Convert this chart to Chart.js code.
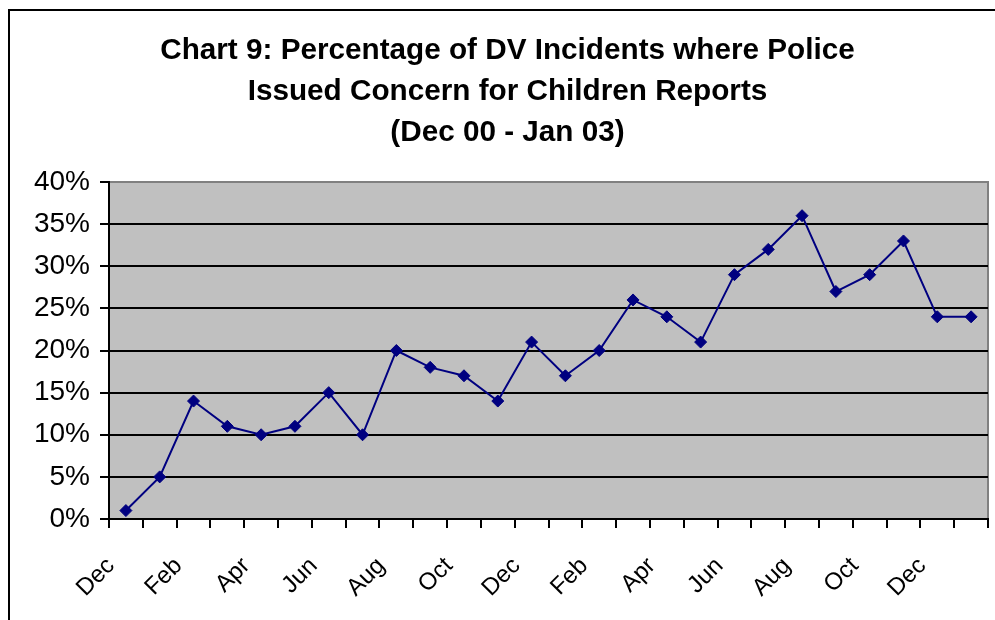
<!DOCTYPE html>
<html>
<head>
<meta charset="utf-8">
<script src="https://cdn.jsdelivr.net/npm/chart.js@4.4.0/dist/chart.umd.min.js"></script>
<style>
  body { margin: 0; background: #fff; overflow: hidden; }
  #frame { position: absolute; left: 8px; top: 9px; width: 1100px; height: 800px; border: 2px solid #000; }
  #wrap { position: absolute; left: 0; top: 0; width: 995px; height: 620px; }
</style>
</head>
<body>
<div id="frame"></div>
<div id="wrap"><canvas id="mycanvas" width="995" height="620"></canvas></div>
<script>
// Dec 00 - Jan 03, monthly
var months = ["Dec", "Jan", "Feb", "Mar", "Apr", "May", "Jun", "Jul", "Aug", "Sep", "Oct", "Nov",
              "Dec", "Jan", "Feb", "Mar", "Apr", "May", "Jun", "Jul", "Aug", "Sep", "Oct", "Nov",
              "Dec", "Jan"];
var percentCfc = [1, 5, 14, 11, 10, 11, 15, 10, 20, 18, 17, 14,
                  21, 17, 20, 26, 24, 21, 29, 32, 36, 27, 29, 33,
                  24, 24];
var yTicks = [0, 5, 10, 15, 20, 25, 30, 35, 40];
var titleLines = ["Chart 9: Percentage of DV Incidents where Police",
                  "Issued Concern for Children Reports",
                  "(Dec 00 - Jan 03)"];

// grey plot area with grey border like the excel original
var plotBg = {
  id: "plotBg",
  beforeDraw: function (chart) {
    var a = chart.chartArea, c = chart.ctx;
    c.save();
    c.fillStyle = "#c0c0c0";
    c.fillRect(a.left, a.top, a.right - a.left, a.bottom - a.top);
    c.strokeStyle = "#808080";
    c.lineWidth = 2;
    c.beginPath();
    c.moveTo(a.left, a.top);
    c.lineTo(a.right, a.top);
    c.lineTo(a.right, a.bottom);
    c.stroke();
    c.restore();
  }
};

var ctx = document.getElementById("mycanvas");
var chart = new Chart(ctx, {
  type: "line",
  data: {
    labels: months,
    datasets: [{
      label: "CfC %",
      data: percentCfc,
      borderColor: "#000080",
      backgroundColor: "#000080",
      borderWidth: 2,
      tension: 0,
      pointStyle: "rectRot",
      pointRadius: 6,
      pointHoverRadius: 6,
      pointBorderWidth: 1,
      pointBorderColor: "#000080",
      pointBackgroundColor: "#000080"
    }]
  },
  options: {
    responsive: false,
    animation: false,
    devicePixelRatio: 1,
    layout: { padding: { top: 30, left: 25, right: 5, bottom: 0 } },
    plugins: {
      legend: { display: false },
      tooltip: { enabled: false },
      title: {
        display: true,
        text: titleLines,
        color: "#000",
        font: { family: "Liberation Sans, Arial", size: 29.7, weight: "bold", lineHeight: "41px" },
        padding: { top: 0, bottom: 29 }
      }
    },
    scales: {
      x: {
        offset: true,
        grid: { offset: true, drawOnChartArea: false, drawTicks: true, tickLength: 9, tickColor: "#000", lineWidth: 2 },
        border: { color: "#000", width: 2 },
        ticks: {
          autoSkip: false,
          minRotation: 45,
          maxRotation: 45,
          labelOffset: -15,
          padding: 24,
          color: "#000",
          font: { family: "Liberation Sans, Arial", size: 24 },
          callback: function (v, i) { return i % 2 === 0 ? months[i] : ""; }
        },
        afterFit: function (s) { s.height = 101; s.paddingLeft = 0; s.paddingRight = 0; }
      },
      y: {
        min: 0,
        max: 40,
        afterBuildTicks: function (s) { s.ticks = yTicks.map(function (v) { return { value: v }; }); },
        grid: {
          color: function (c) { return c.tick && c.tick.value === 40 ? "#808080" : "#000"; },
          lineWidth: 2,
          drawTicks: true,
          tickLength: 9,
          tickColor: "#000"
        },
        border: { color: "#000", width: 2 },
        ticks: {
          padding: 10,
          color: "#000",
          font: { family: "Liberation Sans, Arial", size: 28 },
          callback: function (v) { return v + "%"; }
        },
        afterFit: function (s) { s.width = 84; }
      }
    }
  },
  plugins: [plotBg]
});
</script>
</body>
</html>
